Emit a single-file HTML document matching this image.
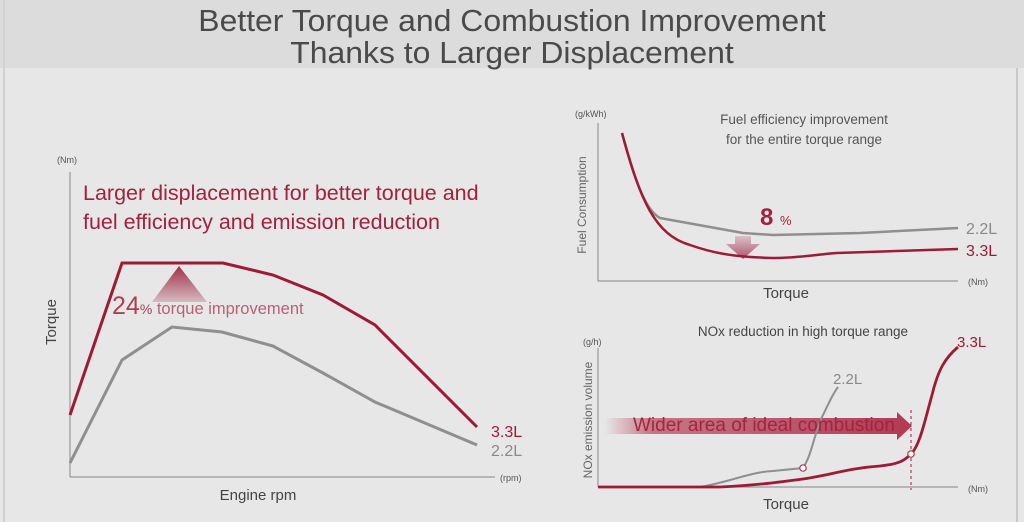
<!DOCTYPE html>
<html><head><meta charset="utf-8"><style>
html,body{margin:0;padding:0;width:1024px;height:522px;overflow:hidden;background:#e6e6e6}
svg{display:block}
</style></head><body>
<svg width="1024" height="522" viewBox="0 0 1024 522" xmlns="http://www.w3.org/2000/svg" font-family="Liberation Sans, sans-serif">
<defs>
<linearGradient id="tri" x1="0" y1="0" x2="0" y2="1"><stop offset="0" stop-color="#a0304a"/><stop offset="1" stop-color="#a0304a" stop-opacity="0.25"/></linearGradient>
<linearGradient id="dn" x1="0" y1="0" x2="0" y2="1"><stop offset="0" stop-color="#a0304a" stop-opacity="0.2"/><stop offset="1" stop-color="#a0304a" stop-opacity="0.8"/></linearGradient>
<linearGradient id="band" x1="0" y1="0" x2="1" y2="0"><stop offset="0" stop-color="#a81c38" stop-opacity="0"/><stop offset="0.15" stop-color="#a81c38" stop-opacity="0.55"/><stop offset="1" stop-color="#a81c38" stop-opacity="0.85"/></linearGradient>
</defs>
<rect x="0" y="0" width="1024" height="68" fill="#dcdcdc"/>
<rect x="0" y="68" width="1024" height="454" fill="#e7e7e7"/>
<line x1="1017" y1="68" x2="1017" y2="522" stroke="#c8c8c8" stroke-width="2"/>
<line x1="4" y1="0" x2="4" y2="522" stroke="#d2d2d2" stroke-width="2"/>
<g fill="#4a4a4a" font-size="31" text-anchor="middle">
<text x="512" y="31" transform="translate(512 0) scale(1.03 1) translate(-512 0)">Better Torque and Combustion Improvement</text>
<text x="512" y="63" transform="translate(512 0) scale(1.03 1) translate(-512 0)">Thanks to Larger Displacement</text>
</g>

<!-- left chart -->
<g stroke="#999" stroke-width="1.2"><line x1="70" y1="172" x2="70" y2="477"/><line x1="70" y1="477" x2="495" y2="477"/></g>
<text x="57" y="163" font-size="9" fill="#555">(Nm)</text>
<text x="500" y="481" font-size="9" fill="#555">(rpm)</text>
<text x="0" y="0" font-size="15" fill="#444" text-anchor="middle" transform="translate(56 322) rotate(-90)">Torque</text>
<text x="258" y="500" font-size="15" fill="#444" text-anchor="middle">Engine rpm</text>
<text x="83" y="200" font-size="21.5" fill="#a3213d">Larger displacement for better torque and</text>
<text x="83" y="229" font-size="21.5" fill="#a3213d">fuel efficiency and emission reduction</text>
<polygon points="179,266 152,302 207,302" fill="url(#tri)"/>
<polyline points="70,463 122,360 172,327 222,332 273,346 323,373 375,402 477,445" fill="none" stroke="#8f8f8f" stroke-width="3"/>
<polyline points="70,415 122,263 223,263 273,275 323,295 375,325 477,427" fill="none" stroke="#9e1b36" stroke-width="3"/>
<text x="112" y="314" font-size="25" fill="#a3213d" opacity="0.85">24<tspan font-size="14">%</tspan><tspan font-size="16.5" fill="#b04a60"> torque improvement</tspan></text>
<text x="491" y="437" font-size="16" fill="#9e1b36">3.3L</text>
<text x="491" y="456" font-size="16" fill="#8a8a8a">2.2L</text>

<!-- top right -->
<g stroke="#999" stroke-width="1.2"><line x1="598" y1="123" x2="598" y2="281"/><line x1="598" y1="281" x2="958" y2="281"/></g>
<text x="575" y="117" font-size="9" fill="#555">(g/kWh)</text>
<text x="968" y="285" font-size="9" fill="#555">(Nm)</text>
<text x="0" y="0" font-size="12" fill="#666" text-anchor="middle" transform="translate(586 205) rotate(-90)">Fuel Consumption</text>
<text x="786" y="298" font-size="15" fill="#444" text-anchor="middle">Torque</text>
<text x="804" y="124" font-size="13.5" fill="#555" text-anchor="middle">Fuel efficiency improvement</text>
<text x="804" y="144" font-size="13.5" fill="#555" text-anchor="middle">for the entire torque range</text>
<path d="M735,236 h16 v8 h9 l-17,15 l-17,-15 h9 z" fill="url(#dn)"/>
<path d="M622,133 C635,180 645,210 660,218 L743,233 L773,235 L860,233 L958,228" fill="none" stroke="#8f8f8f" stroke-width="2.5"/>
<path d="M622,133 C640,200 655,235 690,245 C710,252 730,257 773,258 C800,258 820,254 837,253 L958,249" fill="none" stroke="#9e1b36" stroke-width="2.5"/>
<text x="760" y="225" font-size="24" font-weight="bold" fill="#a3213d">8 <tspan font-size="13" font-weight="normal">%</tspan></text>
<text x="966" y="234" font-size="16" fill="#8a8a8a">2.2L</text>
<text x="966" y="256" font-size="16" fill="#9e1b36">3.3L</text>

<!-- bottom right -->
<g stroke="#999" stroke-width="1.2"><line x1="598" y1="348" x2="598" y2="487"/><line x1="598" y1="487" x2="958" y2="487"/></g>
<text x="583" y="345" font-size="9" fill="#555">(g/h)</text>
<text x="968" y="492" font-size="9" fill="#555">(Nm)</text>
<text x="0" y="0" font-size="12" fill="#666" text-anchor="middle" transform="translate(592 420) rotate(-90)">NOx emission volume</text>
<text x="786" y="509" font-size="15" fill="#444" text-anchor="middle">Torque</text>
<text x="803" y="336" font-size="13.5" fill="#444" text-anchor="middle">NOx reduction in high torque range</text>
<polygon points="605,418 897,418 897,412 912,426 897,440 897,434 605,434" fill="url(#band)"/>
<line x1="911" y1="410" x2="911" y2="490" stroke="#9e1b36" stroke-width="1" stroke-dasharray="3,3"/>
<path d="M700,487 C730,482 750,472 773,471 L803,468 C812,455 815,430 823,415 C828,405 832,395 838,387" fill="none" stroke="#8f8f8f" stroke-width="2"/>
<path d="M598,487 L720,487 C760,485 780,482 803,479 C830,475 850,468 880,466 C900,464 905,460 911,454 C920,445 925,420 932,395 C938,370 945,358 958,347" fill="none" stroke="#9e1b36" stroke-width="2.8"/>
<circle cx="803" cy="468" r="3.2" fill="#fff" stroke="#b0304a" stroke-width="1.2"/>
<circle cx="911" cy="454" r="3.2" fill="#fff" stroke="#b0304a" stroke-width="1.2"/>
<text x="633" y="431" font-size="19" fill="#a3213d" opacity="0.95">Wider area of ideal combustion</text>
<text x="833" y="384" font-size="15" fill="#8a8a8a">2.2L</text>
<text x="957" y="347" font-size="15" fill="#9e1b36">3.3L</text>
</svg>
</body></html>
